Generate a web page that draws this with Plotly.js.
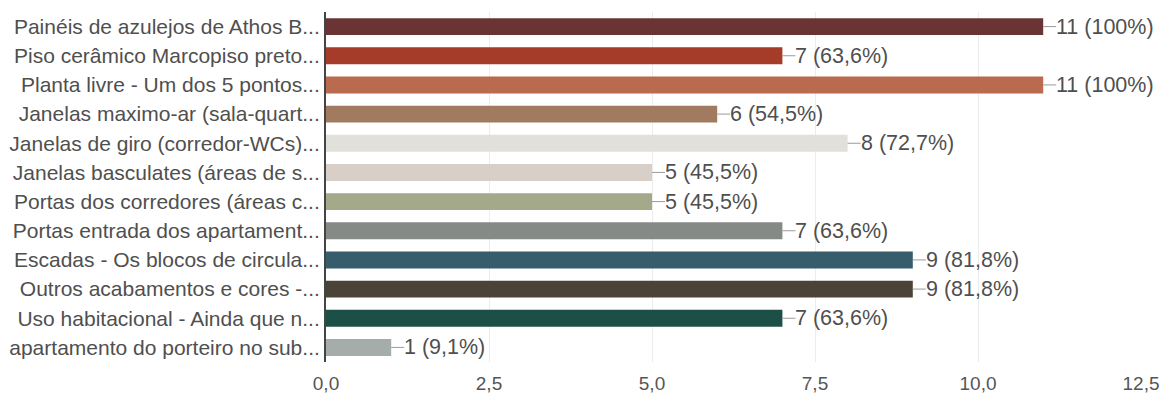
<!DOCTYPE html>
<html>
<head>
<meta charset="utf-8">
<script src="https://cdn.plot.ly/plotly-3.0.1.min.js"></script>
<style>html,body{margin:0;padding:0;background:#fff;}#chart{width:1165px;height:396px;}</style>
</head>
<body>
<div id="chart"></div>
<script>
const categories = [
  "Painéis de azulejos de Athos B...",
  "Piso cerâmico Marcopiso preto...",
  "Planta livre - Um dos 5 pontos...",
  "Janelas maximo-ar (sala-quart...",
  "Janelas de giro (corredor-WCs)...",
  "Janelas basculates (áreas de s...",
  "Portas dos corredores (áreas c...",
  "Portas entrada dos apartament...",
  "Escadas - Os blocos de circula...",
  "Outros acabamentos e cores -...",
  "Uso habitacional - Ainda que n...",
  "apartamento do porteiro no sub..."
];
const values = [11, 7, 11, 6, 8, 5, 5, 7, 9, 9, 7, 1];
const pctLabels = ["100%", "63,6%", "100%", "54,5%", "72,7%", "45,5%", "45,5%", "63,6%", "81,8%", "81,8%", "63,6%", "9,1%"];
const barColors = ["#6b3434", "#a53b29", "#b96a4f", "#a17a5f", "#e1e0da", "#d8cfc8", "#a4a98a", "#858a86", "#375c6b", "#4b4338", "#1c4f45", "#a4ada9"];
const xTicks = [0, 2.5, 5, 7.5, 10, 12.5];

const trace = {
  type: "bar",
  orientation: "h",
  x: values,
  y: categories,
  marker: {color: barColors},
  width: 0.58,
  hoverinfo: "none"
};

const annotations = values.map((v, i) => ({
  x: v, y: categories[i], xref: "x", yref: "y",
  text: v + " (" + pctLabels[i] + ")",
  showarrow: true, arrowhead: 0, arrowwidth: 1, arrowcolor: "#9a9a9a",
  ax: 13, ay: 0, xanchor: "left", yanchor: "middle",
  standoff: 0, startstandoff: 0, borderpad: 0, borderwidth: 0,
  font: {family: "Liberation Sans, Arial, sans-serif", size: 21.5, color: "#4f4f4f"}
}));

const layout = {
  width: 1165, height: 396,
  margin: {l: 326, r: 24, t: 12, b: 34},
  paper_bgcolor: "#fff", plot_bgcolor: "#fff",
  separators: ",.",
  showlegend: false,
  font: {family: "Liberation Sans, Arial, sans-serif", size: 21, color: "#4f4f4f"},
  xaxis: {
    range: [0, 12.5], tickvals: xTicks, tickformat: ".1f",
    showgrid: true, gridcolor: "#ececec", gridwidth: 1,
    zeroline: false, showline: false, ticks: "", ticklabelstandoff: 8,
    tickfont: {size: 19, color: "#555"}, fixedrange: true
  },
  yaxis: {
    autorange: "reversed", type: "category",
    showline: true, linecolor: "#444", linewidth: 2,
    ticks: "", showgrid: false, ticklabelstandoff: 0,
    tickfont: {size: 21, color: "#4f4f4f"}, fixedrange: true
  },
  annotations: annotations
};

Plotly.newPlot("chart", [trace], layout, {displayModeBar: false, staticPlot: true});
</script>
</body>
</html>
